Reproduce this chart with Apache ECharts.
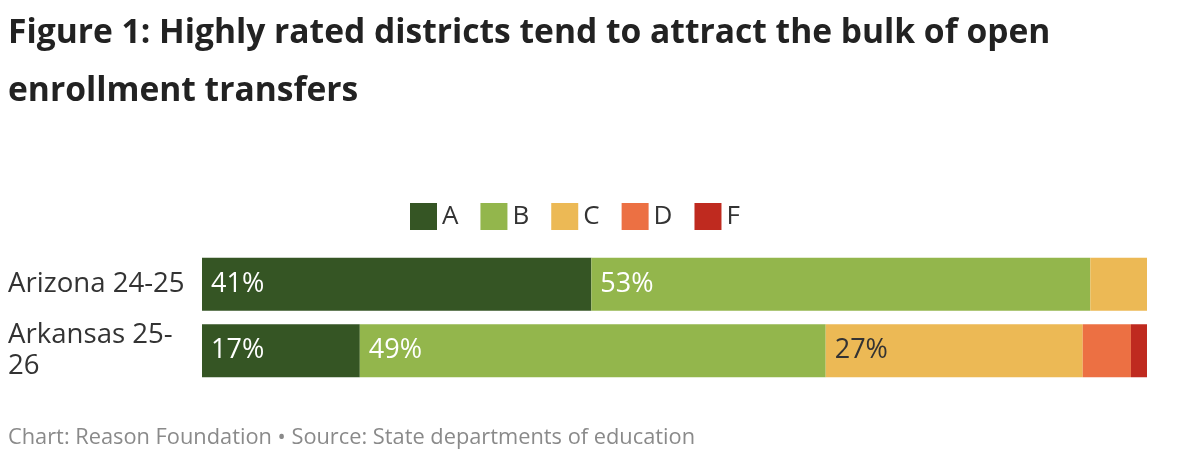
<!DOCTYPE html>
<html><head><meta charset="utf-8">
<script src="https://cdn.jsdelivr.net/npm/echarts@6/dist/echarts.min.js"></script>
<style>html,body{margin:0;padding:0;background:#fff;}#c{width:1200px;height:464px;}</style>
</head><body><div id="c"></div>
<script>
var categories = ['Arizona 24-25', 'Arkansas 25-\n26'];
var grades = ['A', 'B', 'C', 'D', 'F'];
var valuesA = [41.2, 16.7];
var valuesB = [52.8, 49.3];
var valuesC = [6.0, 27.2];
var valuesD = [0, 5.1];
var valuesF = [0, 1.7];
var colors = ['#355524', '#93b64c', '#ecb955', '#ec7043', '#bf2a1f'];
var labelColors = ['#ffffff', '#ffffff', '#333333', '#333333', '#ffffff'];
var allValues = [valuesA, valuesB, valuesC, valuesD, valuesF];
var FONT = '"Open Sans", "Noto Sans", sans-serif';

var chart = echarts.init(document.getElementById('c'), null, {renderer: 'canvas'});
var series = grades.map(function (g, i) {
  return {
    name: g, type: 'bar', stack: 'total', barWidth: 53,
    data: allValues[i],
    itemStyle: {color: colors[i]},
    emphasis: {disabled: true},
    label: {
      show: true, position: 'insideLeft', distance: 9,
      color: labelColors[i], fontFamily: FONT, fontSize: 27,
      formatter: function (p) { return p.value >= 10 ? Math.round(p.value) + '%' : ''; }
    }
  };
});
chart.setOption({
  animation: false,
  title: {
    text: 'Figure 1: Highly rated districts tend to attract the bulk of open\nenrollment transfers',
    left: 3, top: -1,
    textStyle: {fontFamily: FONT, fontWeight: 'bold', fontSize: 33.6, color: '#222222', lineHeight: 58}
  },
  legend: {
    left: 405, top: 198, itemWidth: 27, itemHeight: 27, itemGap: 22,
    icon: 'rect',
    textStyle: {fontFamily: FONT, fontSize: 26, color: '#333333'},
    data: grades
  },
  grid: {left: 202, right: 53, top: 251, bottom: 80, containLabel: false},
  xAxis: {type: 'value', min: 0, max: 100, show: false},
  yAxis: {
    type: 'category', data: categories, inverse: true,
    axisLine: {show: false}, axisTick: {show: false},
    axisLabel: {align: 'left', margin: 194, fontFamily: FONT, fontSize: 27.6, color: '#333333', lineHeight: 31}
  },
  graphic: [{
    type: 'text', left: 8, top: 427,
    style: {text: 'Chart: Reason Foundation • Source: State departments of education', fontFamily: FONT, fontSize: 21.8, fill: '#8a8a8a'}
  }],
  series: series
});
</script></body></html>
